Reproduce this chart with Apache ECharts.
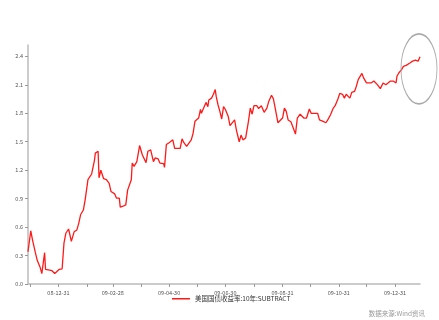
<!DOCTYPE html>
<html>
<head>
<meta charset="utf-8">
<script src="https://cdn.jsdelivr.net/npm/echarts@6/dist/echarts.min.js"></script>
<style>
  html, body { margin: 0; padding: 0; background: #fff; }
  #chart { width: 439px; height: 320px; }
</style>
</head>
<body>
<div id="chart"></div>
<script>
// 美国国债收益率:10年:SUBTRACT — observation dates and values
const seriesName = '美国国债收益率:10年:SUBTRACT';
const sourceNote = '数据来源:Wind资讯';

const dates = [
  '2008-11-29','2008-12-02','2008-12-04','2008-12-07','2008-12-09','2008-12-10','2008-12-12','2008-12-14',
  '2008-12-15','2008-12-17','2008-12-18','2008-12-21','2008-12-25','2008-12-28','2008-12-30','2009-01-02',
  '2009-01-05','2009-01-06','2009-01-07','2009-01-09','2009-01-12','2009-01-14','2009-01-15','2009-01-18',
  '2009-01-21','2009-01-23','2009-01-25','2009-01-28','2009-01-30','2009-02-01','2009-02-02','2009-02-04',
  '2009-02-06','2009-02-09','2009-02-10','2009-02-13','2009-02-14','2009-02-16','2009-02-19','2009-02-22',
  '2009-02-25','2009-02-27','2009-03-03','2009-03-05','2009-03-08','2009-03-09','2009-03-12','2009-03-15',
  '2009-03-17','2009-03-21','2009-03-22','2009-03-24','2009-03-27','2009-03-30','2009-04-02','2009-04-06',
  '2009-04-08','2009-04-11','2009-04-14','2009-04-16','2009-04-19','2009-04-21','2009-04-25','2009-04-26',
  '2009-04-28','2009-05-01','2009-05-03','2009-05-05','2009-05-07','2009-05-09','2009-05-13','2009-05-15',
  '2009-05-17','2009-05-20','2009-05-22','2009-05-25','2009-05-27','2009-05-29','2009-06-02','2009-06-04',
  '2009-06-05','2009-06-07','2009-06-10','2009-06-12','2009-06-13','2009-06-16','2009-06-18','2009-06-20',
  '2009-06-21','2009-06-23','2009-06-25','2009-06-27','2009-06-29','2009-07-01','2009-07-04','2009-07-06',
  '2009-07-08','2009-07-11','2009-07-13','2009-07-16','2009-07-18','2009-07-20','2009-07-23','2009-07-26',
  '2009-07-28','2009-07-30','2009-08-01','2009-08-04','2009-08-06','2009-08-09','2009-08-12','2009-08-15',
  '2009-08-17','2009-08-20','2009-08-22','2009-08-24','2009-08-27','2009-08-29','2009-09-01','2009-09-03',
  '2009-09-05','2009-09-07','2009-09-10','2009-09-12','2009-09-15','2009-09-17','2009-09-20','2009-09-22',
  '2009-09-24','2009-09-27','2009-09-30','2009-10-02','2009-10-06','2009-10-09','2009-10-11','2009-10-15',
  '2009-10-18','2009-10-20','2009-10-23','2009-10-26','2009-10-28','2009-10-31','2009-11-02','2009-11-05',
  '2009-11-07','2009-11-09','2009-11-11','2009-11-13','2009-11-15','2009-11-18','2009-11-20','2009-11-22',
  '2009-11-24','2009-11-26','2009-11-28','2009-12-01','2009-12-03','2009-12-06','2009-12-09','2009-12-11',
  '2009-12-13','2009-12-16','2009-12-19','2009-12-22','2009-12-24','2009-12-27','2009-12-30','2010-01-02',
  '2010-01-03','2010-01-05','2010-01-08','2010-01-10','2010-01-13','2010-01-17','2010-01-20','2010-01-23',
  '2010-01-25','2010-01-26','2010-01-28'
];

const values = [
  0.34, 0.56, 0.46, 0.33, 0.25, 0.27, 0.18, 0.11,
  0.13, 0.33, 0.155, 0.15, 0.14, 0.11, 0.09, 0.155,
  0.16, 0.155, 0.43, 0.535, 0.58, 0.58, 0.45, 0.55,
  0.57, 0.64, 0.73, 0.78, 0.89, 1.03, 1.10, 1.08,
  1.16, 1.30, 1.38, 1.40, 1.12, 1.20, 1.11, 1.10,
  1.06, 0.975, 0.95, 0.905, 0.905, 0.81, 0.82, 0.835,
  0.99, 1.10, 1.275, 1.24, 1.29, 1.46, 1.36, 1.28,
  1.40, 1.415, 1.29, 1.33, 1.32, 1.275, 1.27, 1.23,
  1.47, 1.49, 1.50, 1.52, 1.43, 1.415, 1.43, 1.53,
  1.49, 1.45, 1.43, 1.52, 1.59, 1.715, 1.75, 1.84,
  1.80, 1.82, 1.915, 1.87, 1.94, 1.96, 2.00, 2.05,
  1.98, 1.89, 1.82, 1.74, 1.87, 1.84, 1.77, 1.67,
  1.66, 1.73, 1.62, 1.50, 1.57, 1.52, 1.54, 1.715,
  1.855, 1.79, 1.88, 1.88, 1.85, 1.88, 1.81, 1.855,
  1.925, 1.99, 1.955, 1.855, 1.70, 1.69, 1.75, 1.855,
  1.82, 1.73, 1.71, 1.66, 1.58, 1.75, 1.79, 1.80,
  1.75, 1.75, 1.845, 1.80, 1.80, 1.80, 1.73, 1.715,
  1.70, 1.73, 1.785, 1.855, 1.88, 1.95, 2.01, 2.00,
  1.96, 2.00, 2.00, 1.96, 2.02, 2.03, 2.085, 2.155,
  2.17, 2.22, 2.17, 2.12, 2.11, 2.12, 2.14, 2.155,
  2.10, 2.06, 2.12, 2.10, 2.10, 2.14, 2.14, 2.12,
  2.19, 2.225, 2.26, 2.295, 2.305, 2.33, 2.35, 2.36,
  2.365, 2.35, 2.395
];

// y-axis tick labels
const yTicks = [0, 0.3, 0.6, 0.9, 1.2, 1.5, 1.8, 2.1, 2.4];

const xStart = '2008-11-29';
const xEnd = '2010-01-28';

const DAY = 86400000;
const pad = n => (n < 10 ? '0' : '') + n;

const chart = echarts.init(document.getElementById('chart'), null, { renderer: 'canvas' });

const seriesData = dates.map((d, i) => [d, values[i]]);
const lastPoint = seriesData[seriesData.length - 1];

const axisGray = '#bbbbbb';
const labelColor = '#555555';
const font = 'Noto Sans CJK SC, DejaVu Sans, sans-serif';

chart.setOption({
  animation: false,
  backgroundColor: '#ffffff',
  grid: {
    left: 28, right: 19, top: 45, bottom: 36,
    containLabel: false,
    outerBoundsMode: 'none'
  },
  xAxis: {
    type: 'time',
    min: xStart,
    max: xEnd,
    minInterval: 28 * DAY,
    maxInterval: 31 * DAY,
    splitLine: { show: false },
    axisLine: { lineStyle: { color: axisGray, width: 1.5 } },
    axisTick: { show: true, length: 3, lineStyle: { color: '#999', width: 1 } },
    axisLabel: {
      fontSize: 5.5,
      color: labelColor,
      fontFamily: font,
      margin: 6,
      hideOverlap: false,
      showMinLabel: false,
      showMaxLabel: false,
      // ticks fall on month starts; label them with the preceding month-end date,
      // every second month
      formatter: function (value) {
        const t = new Date(value);
        if (t.getDate() !== 1 || t.getHours() !== 0) return '';
        const d = new Date(value - DAY);
        if ((d.getMonth() + 1) % 2 !== 0) return '';
        return pad(d.getFullYear() % 100) + '-' + pad(d.getMonth() + 1) + '-' + pad(d.getDate());
      }
    }
  },
  yAxis: {
    type: 'value',
    min: 0,
    max: 2.52,
    interval: 0.3,
    splitLine: { show: false },
    axisLine: { show: true, lineStyle: { color: axisGray, width: 1.5 } },
    axisTick: { show: true, length: 3, customValues: yTicks, lineStyle: { color: '#999', width: 1 } },
    axisLabel: {
      customValues: yTicks,
      fontSize: 5.5,
      color: labelColor,
      fontFamily: font,
      margin: 5,
      formatter: v => v.toFixed(1)
    }
  },
  legend: {
    bottom: 13,
    left: 167,
    icon: 'rect',
    itemWidth: 18,
    itemHeight: 1.5,
    textStyle: { fontSize: 6.5, color: '#333', fontFamily: font },
    data: [seriesName]
  },
  graphic: [{
    type: 'text',
    right: 14,
    bottom: 3,
    style: { text: sourceNote, fontSize: 6.5, fill: '#999', fontFamily: font }
  }],
  series: [{
    name: seriesName,
    type: 'line',
    data: seriesData,
    showSymbol: false,
    symbol: 'none',
    lineStyle: { color: '#ff1a1a', width: 1.3 },
    itemStyle: { color: '#ff1a1a' },
    markPoint: {
      silent: true,
      symbol: 'circle',
      symbolSize: [36, 70],
      symbolOffset: [-1, 12],
      label: { show: false },
      itemStyle: { color: 'rgba(0,0,0,0)', borderColor: '#aaaaaa', borderWidth: 1.2 },
      data: [{ coord: lastPoint }]
    }
  }]
});
</script>
</body>
</html>
